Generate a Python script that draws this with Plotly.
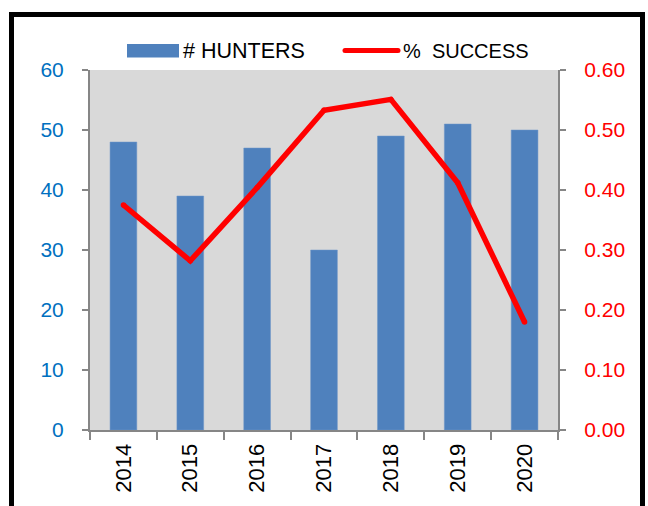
import plotly.graph_objects as go

# Season data
years = ["2014", "2015", "2016", "2017", "2018", "2019", "2020"]
hunters = [48, 39, 47, 30, 49, 51, 50]
success = [0.375, 0.282, 0.404, 0.533, 0.551, 0.412, 0.18]

left_ticks = [0, 10, 20, 30, 40, 50, 60]
right_ticks = [0.0, 0.1, 0.2, 0.3, 0.4, 0.5, 0.6]

W, H = 648, 506
L, R, T, B = 90, 90, 70, 76
PW, PH = W - L - R, H - T - B

BLUE = "#4F81BD"
RED = "#FF0000"
AXIS = "#868686"
FONT = "Liberation Sans, Arial, sans-serif"


def px(x):
    return (x - L) / PW


def py(y):
    return (H - B - y) / PH


fig = go.Figure()
fig.add_trace(go.Bar(
    x=years, y=hunters, name="# HUNTERS",
    marker=dict(color=BLUE, line=dict(color="#6F97C8", width=0.5)),
    yaxis="y",
))
fig.add_trace(go.Scatter(
    x=years, y=success, name="%  SUCCESS", mode="lines+markers",
    line=dict(color=RED, width=5.5),
    marker=dict(color=RED, size=5.5),
    yaxis="y2",
))

shapes = [
    # outer frame
    dict(type="rect", xref="paper", yref="paper",
         x0=px(11.5), x1=px(642.5), y0=py(530), y1=py(14.5),
         line=dict(color="black", width=5), fillcolor="rgba(0,0,0,0)", layer="above"),
    # legend swatches
    dict(type="rect", xref="paper", yref="paper",
         x0=px(127), x1=px(179), y0=py(57.5), y1=py(44),
         line=dict(width=0), fillcolor=BLUE),
    dict(type="line", xref="paper", yref="paper",
         x0=px(345), x1=px(398), y0=py(50.5), y1=py(50.5),
         line=dict(color=RED, width=5)),
]
for xx in (345, 398):
    shapes.append(dict(type="circle", xref="paper", yref="paper",
                       x0=px(xx - 2.5), x1=px(xx + 2.5), y0=py(53), y1=py(48),
                       line=dict(width=0), fillcolor=RED))

annotations = [
    dict(text="# HUNTERS", xref="paper", yref="paper", x=px(181), y=py(51),
         xanchor="left", yanchor="middle", showarrow=False,
         font=dict(family=FONT, size=21.5, color="black")),
    dict(text="%\u00a0\u00a0SUCCESS", xref="paper", yref="paper", x=px(401), y=py(51),
         xanchor="left", yanchor="middle", showarrow=False,
         font=dict(family=FONT, size=20, color="black")),
]

fig.update_layout(
    width=W, height=H,
    margin=dict(l=L, r=R, t=T, b=B),
    paper_bgcolor="white",
    plot_bgcolor="#D9D9D9",
    showlegend=False,
    bargap=0.6,
    font=dict(family=FONT, size=21, color="black"),
    xaxis=dict(
        type="category", tickangle=-90, tickson="boundaries",
        ticks="outside", ticklen=8, tickwidth=1.5, tickcolor=AXIS,
        showline=True, linecolor=AXIS, linewidth=2, showgrid=False,
        tickfont=dict(family=FONT, size=22, color="black"),
        ticklabelstandoff=3,
    ),
    yaxis=dict(
        range=[0, 60], tickvals=left_ticks, ticks="outside", ticklen=6,
        tickwidth=1.5, tickcolor=AXIS, showline=True, linecolor=AXIS,
        linewidth=2, showgrid=False, zeroline=False,
        tickfont=dict(family=FONT, size=21, color="#0070C0"),
        ticklabelstandoff=14,
    ),
    yaxis2=dict(
        range=[0, 0.6], tickvals=right_ticks, tickformat=".2f",
        overlaying="y", side="right", ticks="outside", ticklen=6,
        tickwidth=1.5, tickcolor=AXIS, showline=True, linecolor=AXIS,
        linewidth=2, showgrid=False, zeroline=False,
        tickfont=dict(family=FONT, size=21, color=RED),
        ticklabelstandoff=14,
    ),
    shapes=shapes,
    annotations=annotations,
)

fig.write_html("out.html")
